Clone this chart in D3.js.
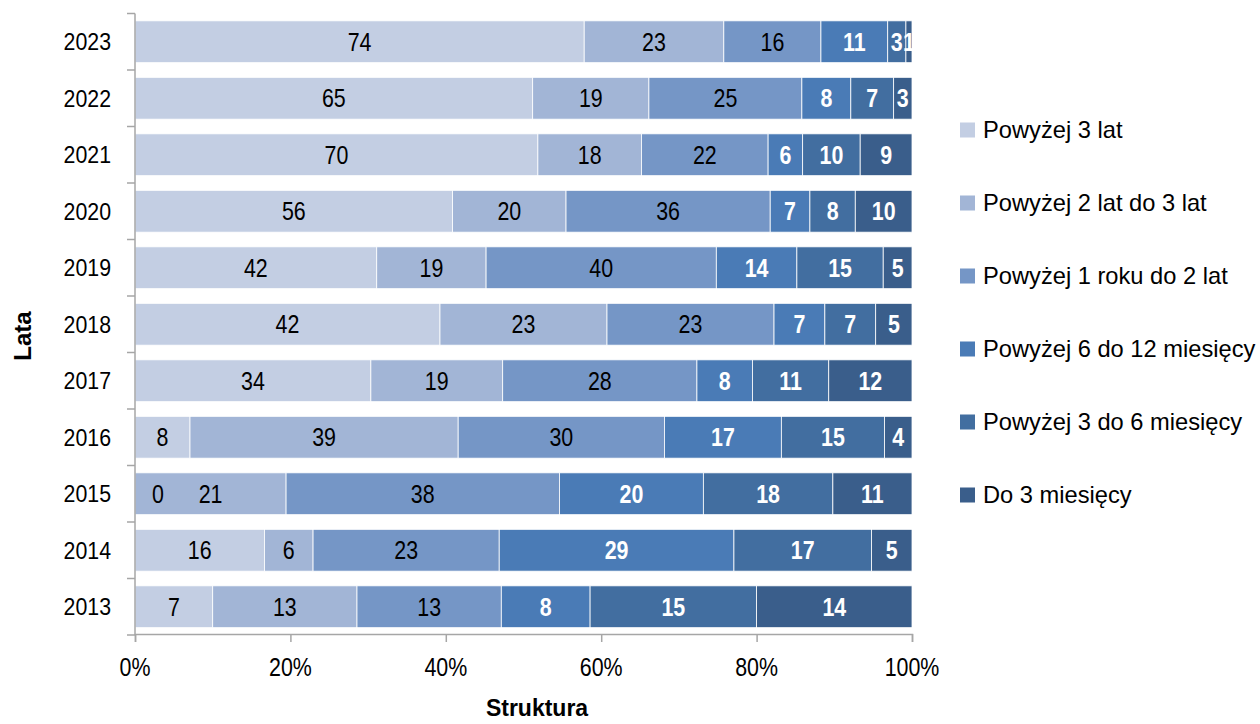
<!DOCTYPE html>
<html><head><meta charset="utf-8">
<script src="https://cdn.jsdelivr.net/npm/d3@7"></script>
<style>
body{margin:0;background:#fff;}
text{font-family:"Liberation Sans Narrow","Liberation Sans",Arial,sans-serif;}
</style></head>
<body><svg id="c" width="1260" height="724"></svg>
<script>
const years = ["2023","2022","2021","2020","2019","2018","2017","2016","2015","2014","2013"];
const seriesNames = ["Powyżej 3 lat","Powyżej 2 lat do 3 lat","Powyżej 1 roku do 2 lat","Powyżej 6 do 12 miesięcy","Powyżej 3 do 6 miesięcy","Do 3 miesięcy"];
const powyzej3lat      = [74,65,70,56,42,42,34, 8, 0,16, 7];
const powyzej2do3lat   = [23,19,18,20,19,23,19,39,21, 6,13];
const powyzej1do2lat   = [16,25,22,36,40,23,28,30,38,23,13];
const powyzej6do12mies = [11, 8, 6, 7,14, 7, 8,17,20,29, 8];
const powyzej3do6mies  = [ 3, 7,10, 8,15, 7,11,15,18,17,15];
const do3mies          = [ 1, 3, 9,10, 5, 5,12, 4,11, 5,14];
const xTicks = [0,0.2,0.4,0.6,0.8,1];
const colors = ["#c3cee3","#a2b5d6","#7596c6","#4a7bb6","#426ea0","#3a5e8b"];

const seriesVals = [powyzej3lat,powyzej2do3lat,powyzej1do2lat,powyzej6do12mies,powyzej3do6mies,do3mies];
const rows = years.map((y,i)=>{const o={year:y}; seriesNames.forEach((s,j)=>o[s]=seriesVals[j][i]); return o;});
const stack = d3.stack().keys(seriesNames).offset(d3.stackOffsetExpand)(rows);

const svg = d3.select("#c");
const L=135, R=912, T=13.5, B=635;
const x = d3.scaleLinear().domain([0,1]).range([L,R]);
const y = d3.scaleBand().domain(years).range([T,B]).paddingInner(0.26).paddingOuter(0.13);

// text helper: condensed look via horizontal scaling
function txt(parent, px, py, str, opt){
  const o = Object.assign({size:25.5, sx:0.84, anchor:"middle", weight:"normal", fill:"#000", dy:"0.35em", rot:0}, opt||{});
  return parent.append("text")
    .attr("transform",`translate(${px},${py}) rotate(${o.rot}) scale(${o.sx},1)`)
    .attr("x",0).attr("y",0).attr("dy",o.dy)
    .attr("text-anchor",o.anchor).attr("font-size",o.size)
    .attr("font-weight",o.weight).attr("fill",o.fill).text(str);
}

const g = svg.append("g");
stack.forEach((s,j)=>{
  g.append("g").attr("fill",colors[j]).selectAll("rect").data(s).join("rect")
    .attr("x",d=>x(d[0])).attr("width",d=>x(d[1])-x(d[0]))
    .attr("y",d=>y(d.data.year)).attr("height",y.bandwidth())
    .attr("stroke","#fff").attr("stroke-width",0.8);
});
const lab = svg.append("g");
stack.forEach((s,j)=>{
  s.forEach(d=>{
    txt(lab, Math.max((x(d[0])+x(d[1]))/2, L+23), y(d.data.year)+y.bandwidth()/2,
        d.data[seriesNames[j]], {weight:j>=3?"bold":"normal", fill:j>=3?"#fff":"#000"});
  });
});

// x axis
const xa = svg.append("g").attr("transform",`translate(0,${B-1})`)
  .call(d3.axisBottom(x).tickValues(xTicks).tickFormat("").tickSizeOuter(0).tickSize(8));
xa.select(".domain").attr("stroke","#a6a6a6").attr("stroke-width",1.5);
xa.selectAll(".tick line").attr("stroke","#a6a6a6").attr("stroke-width",1.5);
const fmt = d3.format(".0%");
xTicks.forEach(t=>txt(svg, x(t), 676, fmt(t), {dy:"0"}));

// y axis
const ya = svg.append("g").attr("transform",`translate(${L},0)`);
ya.append("line").attr("x1",0).attr("x2",0).attr("y1",T).attr("y2",B).attr("stroke","#a6a6a6").attr("stroke-width",1.5);
const bounds = d3.range(years.length+1).map(i=>T+i*(B-T)/years.length);
ya.selectAll(".tk").data(bounds).join("line").attr("x1",-8).attr("x2",0)
  .attr("y1",d=>d).attr("y2",d=>d).attr("stroke","#a6a6a6").attr("stroke-width",1.5);
years.forEach(yr=>txt(svg, 111, y(yr)+y.bandwidth()/2, yr, {anchor:"end", sx:0.87, size:24.5}));

txt(svg, 31, 336, "Lata", {rot:-90, size:24, sx:1, weight:"bold", dy:"0"});
txt(svg, 537, 716, "Struktura", {size:23, sx:1, weight:"bold", dy:"0"});

// legend
const lg = svg.append("g");
seriesNames.forEach((s,j)=>{
  const cy = 130 + j*73;
  lg.append("rect").attr("x",960).attr("y",cy-7.5).attr("width",15).attr("height",15).attr("fill",colors[j]);
  txt(lg, 983, cy, s, {anchor:"start", size:23, sx:1.03});
});
</script></body></html>
